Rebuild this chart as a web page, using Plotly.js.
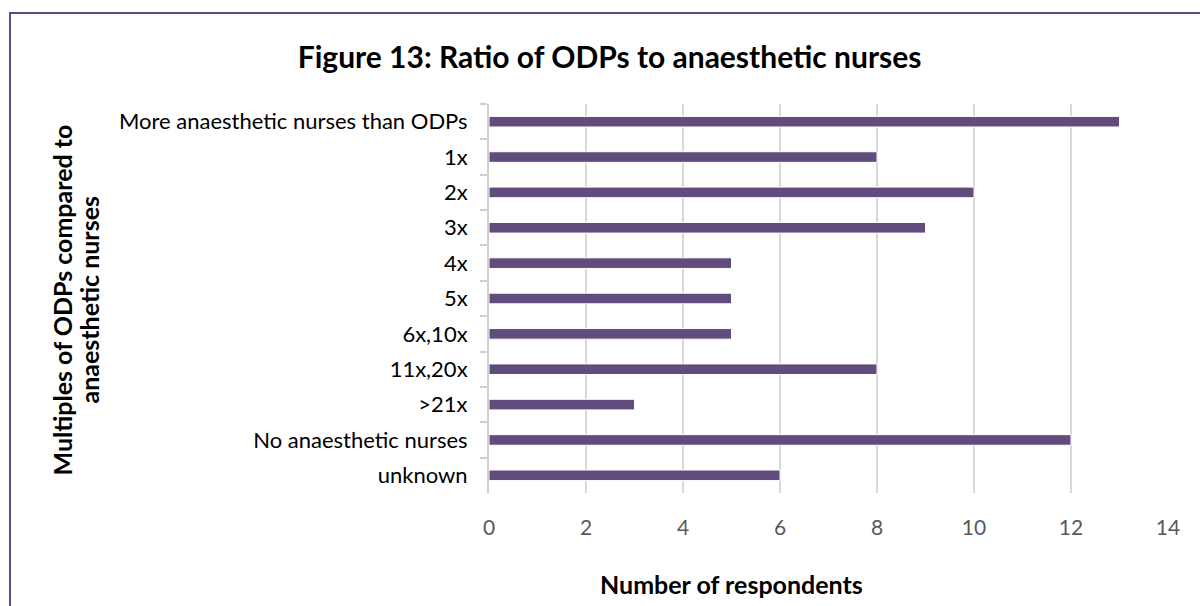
<!DOCTYPE html>
<html>
<head>
<meta charset="utf-8">
<script src="https://cdn.plot.ly/plotly-3.0.1.min.js"></script>
<style>
  html, body { margin: 0; padding: 0; background: #fff; }
  #wrap { position: relative; width: 1200px; height: 606px; overflow: hidden; }
  #frame { position: absolute; left: 9px; top: 12px; width: 1300px; height: 700px;
           border-left: 2px solid #604A86; border-top: 2px solid #604A86; pointer-events: none; z-index: 5; }
  #chart { position: absolute; left: 0; top: 0; width: 1200px; height: 606px; }
</style>
</head>
<body>
<div id="wrap">
  <div id="chart"></div>
  <div id="frame"></div>
</div>
<script>
// Ratio categories and respondent counts
const categories = [
  "More anaesthetic nurses than ODPs",
  "1x", "2x", "3x", "4x", "5x", "6x,10x", "11x,20x", ">21x",
  "No anaesthetic nurses", "unknown"
];
const respondents = [13, 8, 10, 9, 5, 5, 5, 8, 3, 12, 6];
const xTicks = [0, 2, 4, 6, 8, 10, 12, 14];

const chartTitle = "Figure 13: Ratio of ODPs to anaesthetic nurses";
const xTitle = "Number of respondents";
const yTitleLines = ["Multiples of ODPs compared to", "anaesthetic nurses"];

const FONT = "Lato, Noto Sans, sans-serif";

const trace = {
  type: "bar",
  orientation: "h",
  y: categories,
  x: respondents,
  marker: { color: "#624C7E", line: { color: "#ffffff", width: 1 } },
  width: 0.3,
  hoverinfo: "x+y"
};

// Axis titles placed as annotations, offset in pixels from the plot corner
const annotations = [
  {
    text: "<b>" + xTitle + "</b>",
    xref: "paper", yref: "paper", x: 0, y: 0,
    xanchor: "center", yanchor: "middle",
    xshift: 242, yshift: -91,
    showarrow: false,
    font: { family: FONT, size: 25, color: "#000000" }
  },
  {
    text: "<b>" + yTitleLines[0] + "</b>",
    xref: "paper", yref: "paper", x: 0, y: 0.5,
    xanchor: "center", yanchor: "middle",
    xshift: -428, yshift: -2, textangle: -90,
    showarrow: false,
    font: { family: FONT, size: 25, color: "#000000" }
  },
  {
    text: "<b>" + yTitleLines[1] + "</b>",
    xref: "paper", yref: "paper", x: 0, y: 0.5,
    xanchor: "center", yanchor: "middle",
    xshift: -401, yshift: -2, textangle: -90,
    showarrow: false,
    font: { family: FONT, size: 25, color: "#000000" }
  }
];

const layout = {
  width: 1200,
  height: 606,
  margin: { l: 489, r: 32, t: 104, b: 113 },
  paper_bgcolor: "#ffffff",
  plot_bgcolor: "#ffffff",
  showlegend: false,
  title: {
    text: "<b>" + chartTitle + "</b>",
    font: { family: FONT, size: 30, color: "#000000" },
    x: 0.508, xanchor: "center", y: 0.905, yanchor: "middle"
  },
  annotations: annotations,
  xaxis: {
    range: [0, 14],
    tickvals: xTicks,
    ticktext: xTicks.map(String),
    showgrid: true,
    gridcolor: "#D9D9D9",
    gridwidth: 2,
    zeroline: false,
    showline: false,
    ticks: "",
    tickfont: { family: FONT, size: 21, color: "#595959" },
    ticklabelstandoff: 20
  },
  yaxis: {
    type: "category",
    autorange: "reversed",
    showline: true,
    linecolor: "#D0D0D0",
    linewidth: 2,
    ticks: "outside",
    tickson: "boundaries",
    ticklen: 7,
    tickcolor: "#D0D0D0",
    tickwidth: 2,
    showgrid: false,
    tickfont: { family: FONT, size: 22, color: "#000000" },
    ticklabelstandoff: 15
  }
};

Plotly.newPlot("chart", [trace], layout, { displayModeBar: false, staticPlot: true });
</script>
</body>
</html>
